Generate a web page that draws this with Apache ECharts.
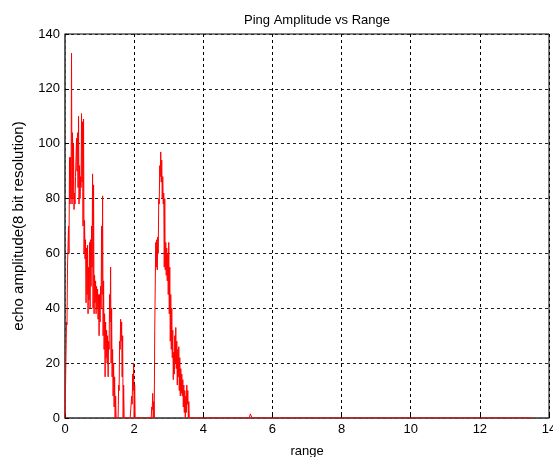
<!DOCTYPE html>
<html>
<head>
<meta charset="utf-8">
<script src="https://cdn.jsdelivr.net/npm/echarts@6/dist/echarts.min.js"></script>
<style>
html,body{margin:0;padding:0;background:#fff;}
#chart{width:553px;height:457px;}
</style>
</head>
<body>
<div id="chart"></div>
<script>
// Sampled echo amplitude, first 3.6 m of range (sample spacing below)
const rangeStep = 0.0145;
const amplitude = [
  0,0, 0,35, 34,55, 55,70, 60,95, 78,95, 80,133, 78,104, 80,100, 76,82,
  78,88, 88,102, 90,104, 84,110, 78,92, 80,88, 84,111, 86,108, 70,109, 60,72,
  58,65, 42,62, 45,63, 38,55, 43,64, 40,65, 48,70, 55,89, 40,85, 38,52,
  42,50, 38,48, 40,47, 36,45, 30,45, 35,48, 40,70, 45,81, 30,50, 25,38,
  15,35, 22,32, 20,30, 15,28, 25,45, 35,55, 20,40, 15,25, 8,20, 4,15,
  0,8, 0,0, 0,0, 0,12, 10,28, 25,36, 28,35, 15,30, 0,12, 0,0,
  0,0, 0,0, 0,0, 0,0, 0,0, 0,0,
  0,8, 5,16, 10,20, 0,12,
  0,0, 0,0, 0,0, 0,0, 0,0, 0,0, 0,0, 0,0, 0,0, 0,0, 0,0, 0,0, 0,0, 0,0, 0,0, 0,0,
  0,4, 3,9, 0,6, 0,32, 32,64, 55,65, 54,66, 60,80, 78,92, 88,97,
  86,94, 80,88, 78,82, 55,80, 54,64, 52,62, 50,60, 45,64, 38,55, 28,45,
  25,40, 22,32, 14,24, 16,30, 20,33, 18,28, 12,25, 15,26, 10,22, 8,18,
  9,16, 8,14, 4,12, 2,10, 0,8, 2,12, 5,10, 0,6, 0,0
];
// Remaining (sparse) part of the trace
const tailRange = [3.62, 5.33, 5.36, 5.38, 5.41, 13.53];
const tailAmp   = [0,    0,    1.5,  1.0,  0,    0];

const xTicks = [0, 2, 4, 6, 8, 10, 12, 14];
const yTicks = [0, 20, 40, 60, 80, 100, 120, 140];

const data = amplitude.map((v, i) => [i * rangeStep, v])
  .concat(tailRange.map((r, i) => [r, tailAmp[i]]));

const font = 'Liberation Sans, Arial, sans-serif';
const chart = echarts.init(document.getElementById('chart'), null, {renderer: 'canvas'});
chart.setOption({
  animation: false,
  backgroundColor: '#fff',
  title: {
    text: 'Ping Amplitude vs Range',
    left: 312, top: 9, textAlign: 'center',
    textStyle: {fontFamily: font, fontSize: 13, fontWeight: 'normal', color: '#000'}
  },
  grid: {
    left: 65, top: 34, right: 4, bottom: 39,
    outerBoundsMode: 'none', containLabel: false,
    show: true, borderColor: '#000', borderWidth: 1, backgroundColor: 'transparent'
  },
  xAxis: {
    type: 'value', min: xTicks[0], max: xTicks[xTicks.length - 1], interval: 2,
    name: 'range', nameLocation: 'middle', nameGap: 27,
    nameTextStyle: {fontFamily: font, fontSize: 13, color: '#000'},
    axisLine: {show: true, lineStyle: {color: '#555', width: 1.5}},
    axisTick: {show: true, inside: true, length: 4, lineStyle: {color: '#000'}},
    axisLabel: {fontFamily: font, fontSize: 13, color: '#000', margin: 5},
    splitLine: {show: true, lineStyle: {color: '#000', type: [3, 3], width: 1}}
  },
  yAxis: {
    type: 'value', min: yTicks[0], max: yTicks[yTicks.length - 1], interval: 20,
    name: 'echo amplitude(8 bit resolution)', nameLocation: 'middle', nameGap: 39,
    nameTextStyle: {fontFamily: font, fontSize: 15, color: '#000'},
    axisLine: {show: true, lineStyle: {color: '#555', width: 1.5}},
    axisTick: {show: true, inside: true, length: 4, lineStyle: {color: '#000'}},
    axisLabel: {fontFamily: font, fontSize: 13, color: '#000', margin: 5},
    splitLine: {show: true, lineStyle: {color: '#222', type: [3, 3], width: 1}}
  },
  series: [{
    type: 'line',
    data: data,
    showSymbol: false,
    symbol: 'none',
    lineStyle: {color: '#ff0000', width: 1},
    itemStyle: {color: '#ff0000'},
    z: 3
  }]
});
</script>
</body>
</html>
